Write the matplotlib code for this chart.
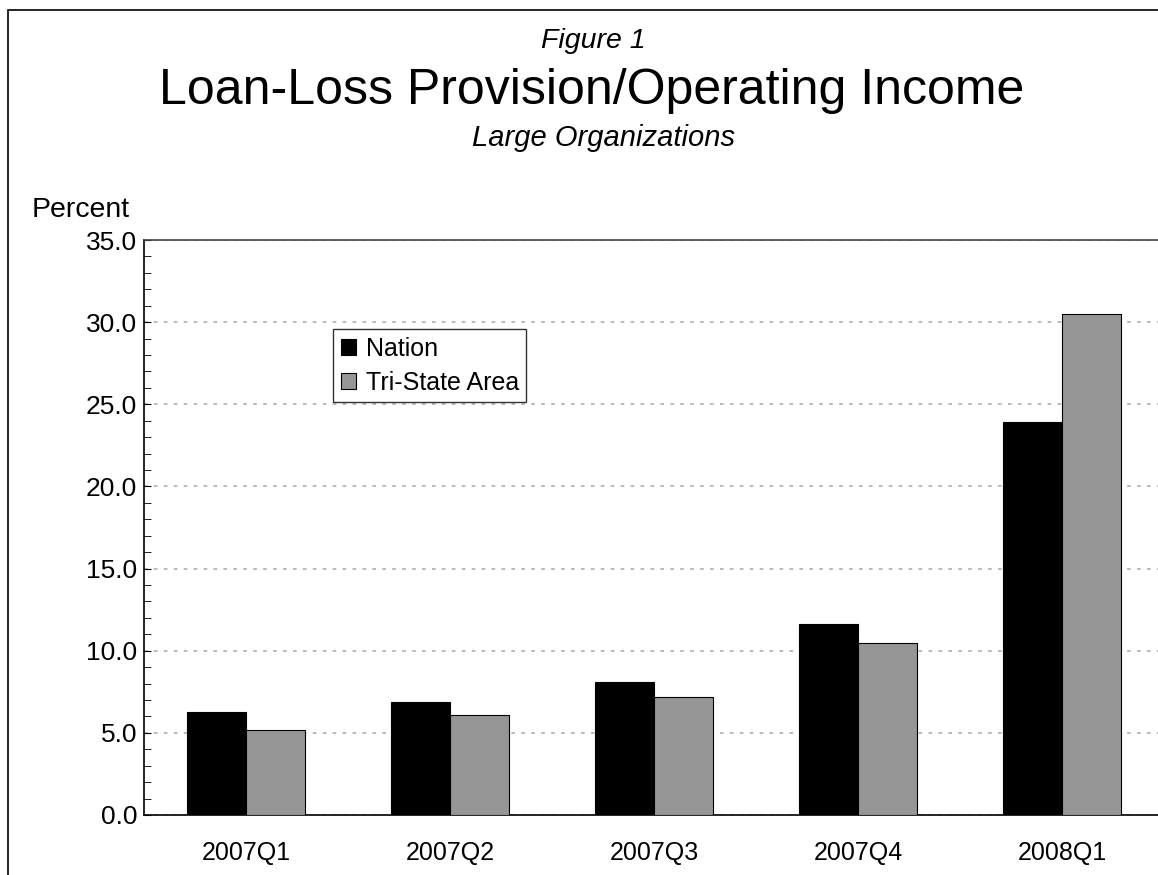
import numpy as np
import matplotlib.pyplot as plt
from matplotlib.patches import Rectangle
from matplotlib.ticker import MultipleLocator, FormatStrFormatter

quarters = ['2007Q1', '2007Q2', '2007Q3', '2007Q4', '2008Q1']
nation = [6.3, 6.9, 8.1, 11.6, 23.9]
tri_state = [5.2, 6.1, 7.2, 10.5, 30.5]

plt.rcParams['font.family'] = ['Liberation Sans', 'DejaVu Sans']

W, H = 1158, 875
fig = plt.figure(figsize=(W / 100, H / 100), dpi=100)

# outer frame, cut off on the right and bottom
fig.patches.append(Rectangle((8 / W, -0.1), 1.2, 1 - 10 / H + 0.1,
                             transform=fig.transFigure, fill=False,
                             edgecolor='black', linewidth=1.2))

ax = fig.add_axes([144 / W, 60 / H, 1020 / W, 575 / H])

x = np.arange(len(quarters))
w = 0.29
ax.bar(x - w / 2, nation, w, color='black', edgecolor='black',
       linewidth=0.8, label='Nation', zorder=3)
ax.bar(x + w / 2, tri_state, w, color='#969696', edgecolor='black',
       linewidth=0.8, label='Tri-State Area', zorder=3)

ax.set_xlim(-0.5, len(quarters) - 0.5)
ax.set_ylim(0, 35)
ax.yaxis.set_major_locator(MultipleLocator(5))
ax.yaxis.set_minor_locator(MultipleLocator(1))
ax.yaxis.set_major_formatter(FormatStrFormatter('%.1f'))
ax.set_xticks(x)
ax.set_xticklabels(quarters)
ax.tick_params(axis='x', length=0, pad=19, labelsize=18)
ax.tick_params(axis='y', which='major', direction='in', length=5,
               labelsize=19, pad=5)
ax.tick_params(axis='y', which='minor', direction='in', length=5)
ax.grid(axis='y', which='major', linestyle=(0, (2, 3.5)), color='#b4b4b4',
        linewidth=1.3, zorder=0)

for side in ['left', 'bottom']:
    ax.spines[side].set_linewidth(1.2)
ax.spines['top'].set_color('#444444')
ax.spines['top'].set_linewidth(1.2)
ax.spines['right'].set_visible(False)

leg = ax.legend(loc='upper left',
                bbox_to_anchor=((333 - 144) / 1020, (815 - 329) / 575),
                fontsize=18, frameon=True, fancybox=False, edgecolor='black',
                handlelength=0.6, handleheight=0.6, handletextpad=0.4,
                borderpad=0.3, labelspacing=0.4, borderaxespad=0)
leg.get_frame().set_linewidth(1.0)

fig.text(593 / W, 1 - 48 / H, 'Figure 1', ha='center', va='baseline',
         fontsize=20.5, style='italic')
fig.text(592 / W, 1 - 104 / H, 'Loan-Loss Provision/Operating Income',
         ha='center', va='baseline', fontsize=36)
fig.text(604 / W, 1 - 146 / H, 'Large Organizations', ha='center',
         va='baseline', fontsize=21, style='italic')
fig.text(32 / W, 1 - 217 / H, 'Percent', ha='left', va='baseline',
         fontsize=20.5)

fig.savefig('out.png', dpi=100)
